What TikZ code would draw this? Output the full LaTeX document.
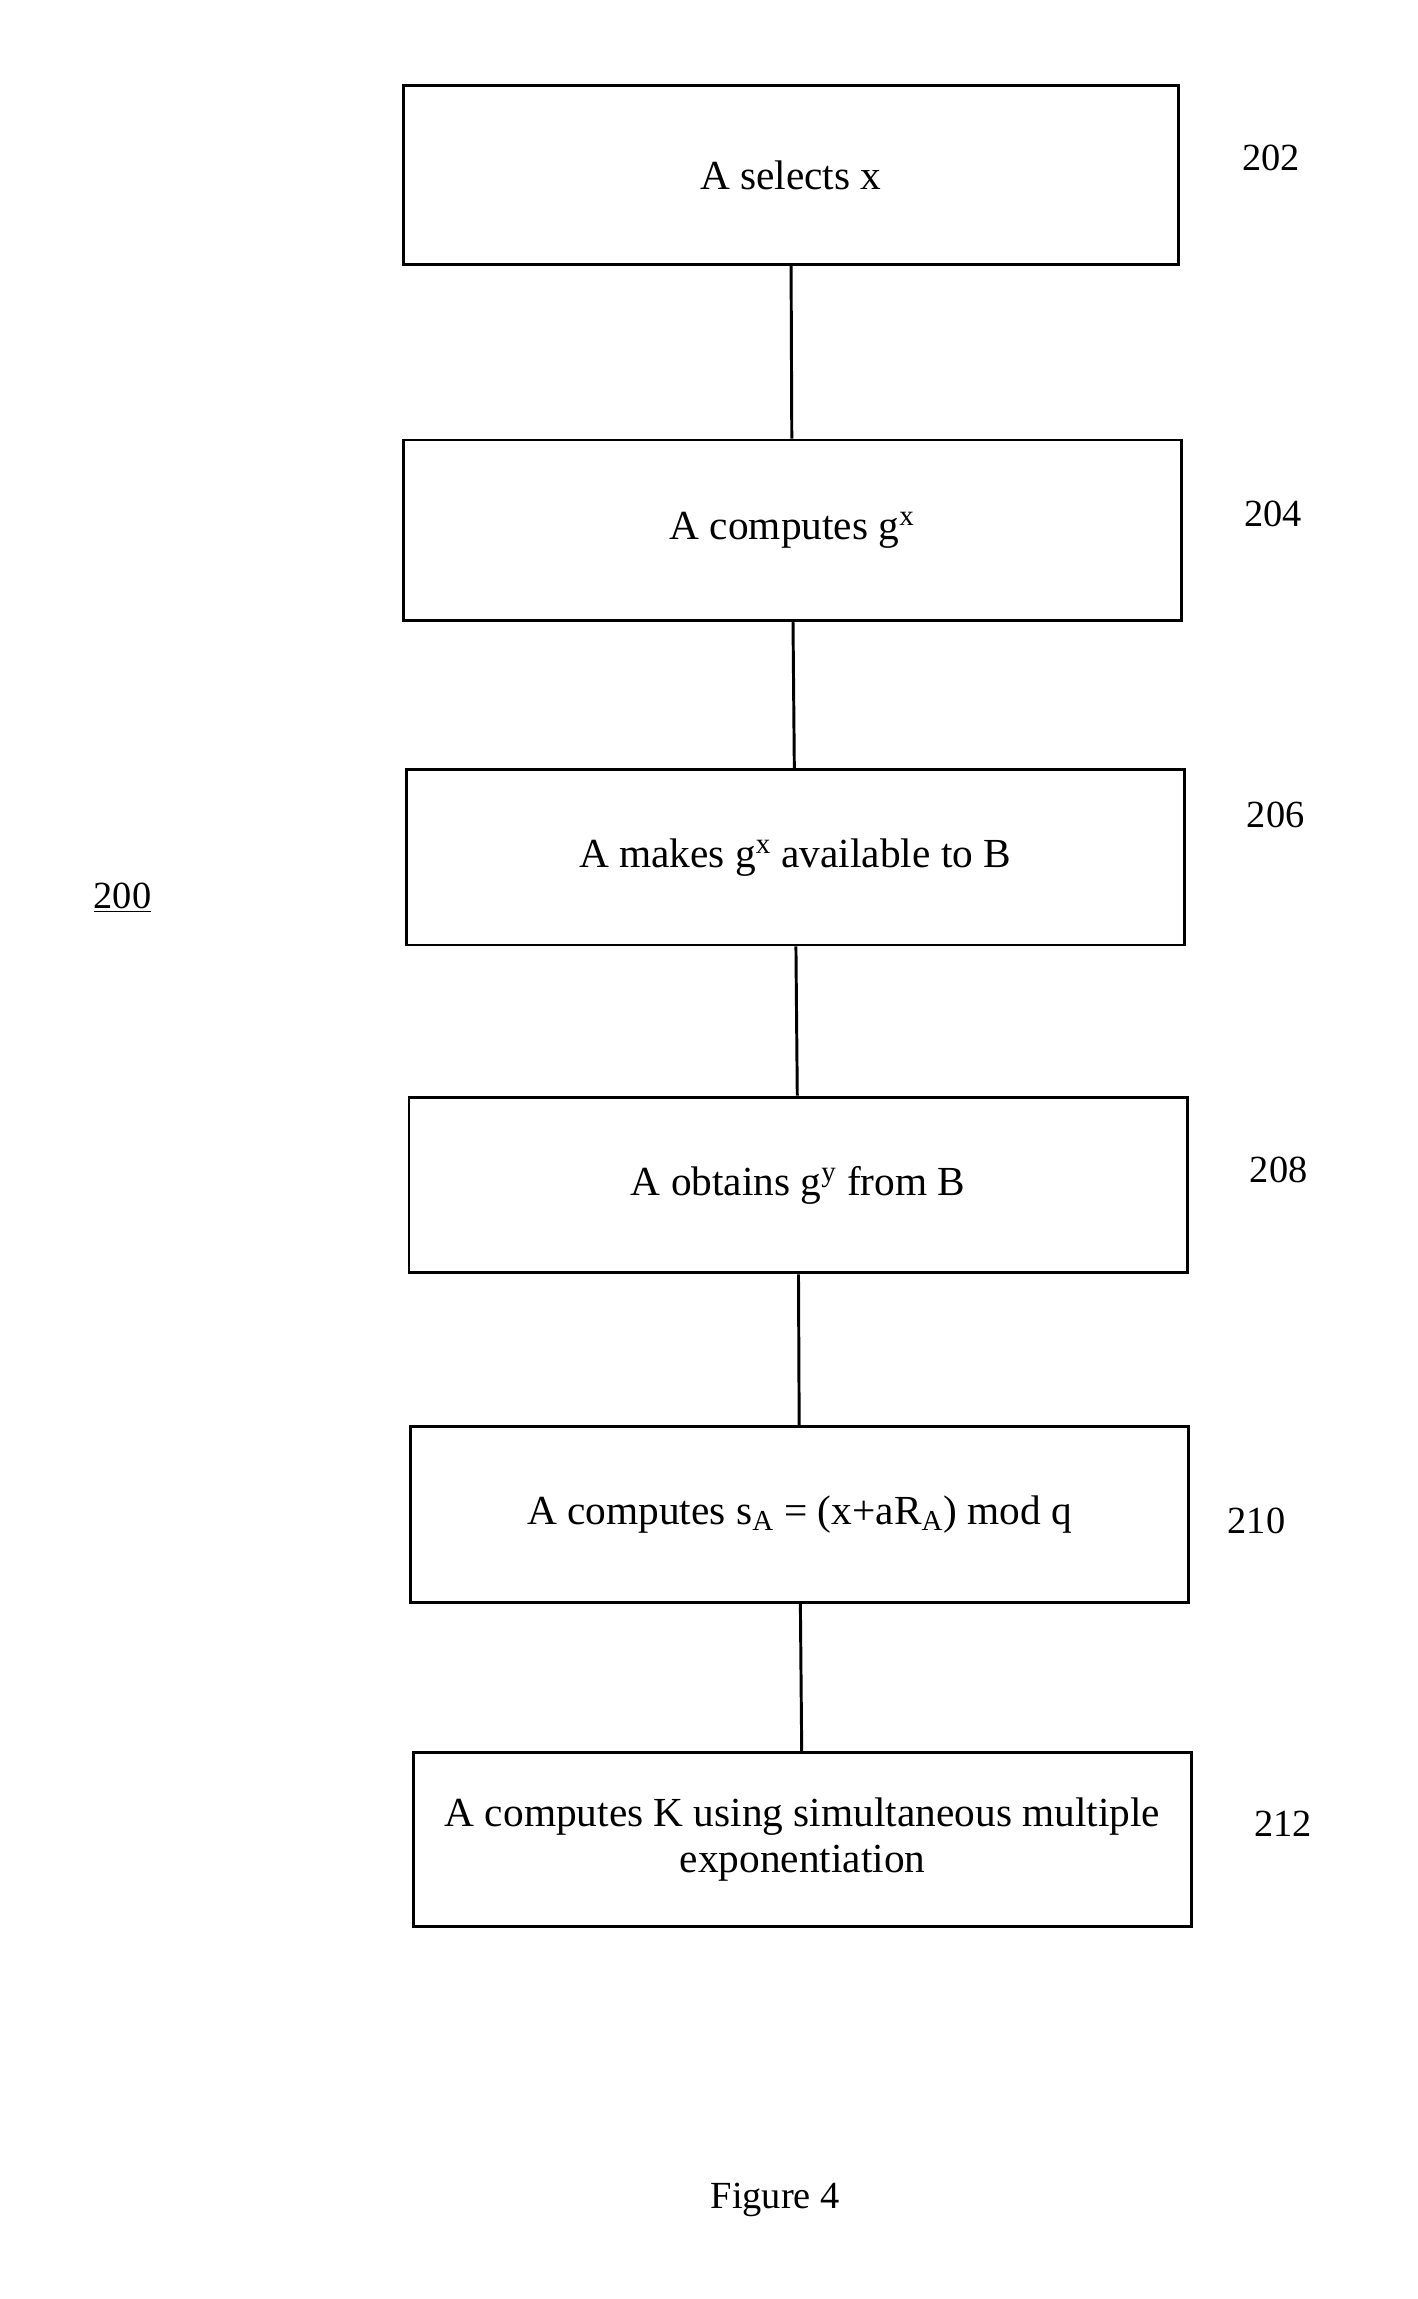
\documentclass[tikz,border=0pt]{standalone}
\usepackage{fontspec}
\setmainfont{Liberation Serif}
\begin{document}
\begin{tikzpicture}[x=1pt,y=-1pt,
  box/.style={draw,line width=2pt,inner sep=0pt,align=center,font=\fontsize{28}{31}\selectfont},
  lab/.style={font=\fontsize{26}{30}\selectfont},
  conn/.style={line width=2pt}]
\useasboundingbox (0,0) rectangle (960,1557);
\node[box,minimum width=525pt,minimum height=121pt] (b1) at (535.5,118.5) {A selects x};
\node[box,minimum width=527pt,minimum height=122pt] (b2) at (536.5,359) {A computes g\textsuperscript{x}};
\node[box,minimum width=527pt,minimum height=119pt] (b3) at (538.5,580.5) {A makes g\textsuperscript{x} available to B};
\node[box,minimum width=527pt,minimum height=119pt] (b4) at (540.5,802.5) {A obtains g\textsuperscript{y} from B};
\node[box,minimum width=527pt,minimum height=119pt] (b5) at (541.5,1025.5) {A computes s\textsubscript{A} = (x+aR\textsubscript{A}) mod q};
\node[box,minimum width=527pt,minimum height=118pt] (b6) at (543.5,1246) {A computes K using simultaneous multiple\\exponentiation};
\draw[conn] (b1) -- (b2);
\draw[conn] (b2) -- (b3);
\draw[conn] (b3) -- (b4);
\draw[conn] (b4) -- (b5);
\draw[conn] (b5) -- (b6);
\node[lab] (l1) at (861,107) {202};
\node[lab] (l2) at (862,348) {204};
\node[lab] (l3) at (864,552) {206};
\node[lab] (l4) at (866,792) {208};
\node[lab] (l5) at (851,1030) {210};
\node[lab] (l6) at (869,1235) {212};
\node[lab] (l0) at (83,608) {\underline{200}};
\node[lab] (fig) at (525,1490) {Figure 4};
\end{tikzpicture}
\end{document}
